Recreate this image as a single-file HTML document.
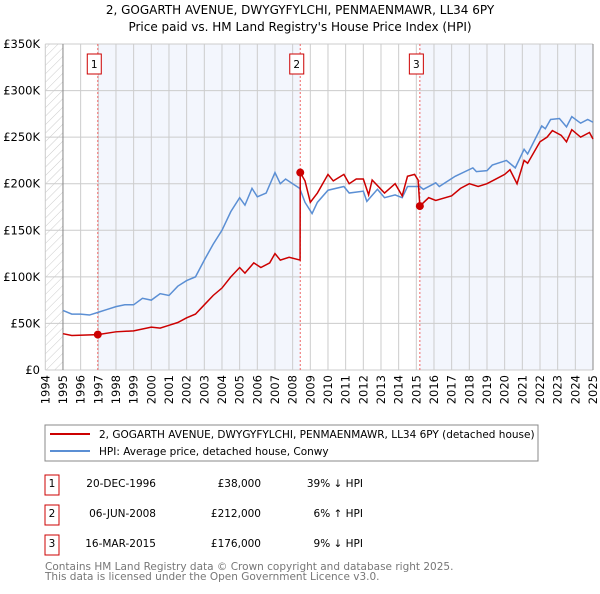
<!DOCTYPE html>
<html><head><meta charset="utf-8"><style>
body{margin:0;background:#fff;font-family:"DejaVu Sans","Liberation Sans",sans-serif;}
svg text{font-family:"DejaVu Sans","Liberation Sans",sans-serif;}
</style></head><body>
<svg width="600" height="590" xmlns="http://www.w3.org/2000/svg">
<defs><pattern id="hatch" width="6" height="6" patternUnits="userSpaceOnUse" patternTransform="rotate(45)"><line x1="0" y1="0" x2="0" y2="6" stroke="#ccc" stroke-width="1"/></pattern></defs>
<text x="300" y="14" text-anchor="middle" font-size="12">2, GOGARTH AVENUE, DWYGYFYLCHI, PENMAENMAWR, LL34 6PY</text>
<text x="300" y="31" text-anchor="middle" font-size="12">Price paid vs. HM Land Registry's House Price Index (HPI)</text>
<g id="plot"></g>
<g>
<rect x="45" y="425" width="493" height="36" fill="#fff" stroke="#888"/>
<line x1="50" y1="434" x2="90" y2="434" stroke="#cc0000" stroke-width="2"/>
<text x="99" y="438" font-size="10.5">2, GOGARTH AVENUE, DWYGYFYLCHI, PENMAENMAWR, LL34 6PY (detached house)</text>
<line x1="50" y1="451" x2="90" y2="451" stroke="#5b8fd4" stroke-width="2"/>
<text x="99" y="455" font-size="10.5">HPI: Average price, detached house, Conwy</text>
</g>
<g font-size="10.5">
<rect x="45" y="475" width="14" height="20" fill="#fff" stroke="#cc0000"/><text x="52" y="487" text-anchor="middle">1</text>
<text x="156" y="487" text-anchor="end">20-DEC-1996</text><text x="261" y="487" text-anchor="end">£38,000</text><text x="363" y="487" text-anchor="end">39% ↓ HPI</text>
<rect x="45" y="505" width="14" height="20" fill="#fff" stroke="#cc0000"/><text x="52" y="517" text-anchor="middle">2</text>
<text x="156" y="517" text-anchor="end">06-JUN-2008</text><text x="261" y="517" text-anchor="end">£212,000</text><text x="363" y="517" text-anchor="end">6% ↑ HPI</text>
<rect x="45" y="535" width="14" height="20" fill="#fff" stroke="#cc0000"/><text x="52" y="547" text-anchor="middle">3</text>
<text x="156" y="547" text-anchor="end">16-MAR-2015</text><text x="261" y="547" text-anchor="end">£176,000</text><text x="363" y="547" text-anchor="end">9% ↓ HPI</text>
</g>
<text x="45" y="570" font-size="10.5" fill="#777">Contains HM Land Registry data © Crown copyright and database right 2025.</text>
<text x="45" y="580" font-size="10.5" fill="#777">This data is licensed under the Open Government Licence v3.0.</text>
</svg>
<script>
const yTicks=[0,50000,100000,150000,200000,250000,300000,350000];
const yTickLabels=["£0","£50K","£100K","£150K","£200K","£250K","£300K","£350K"];
const xYears=[1994,1995,1996,1997,1998,1999,2000,2001,2002,2003,2004,2005,2006,2007,2008,2009,2010,2011,2012,2013,2014,2015,2016,2017,2018,2019,2020,2021,2022,2023,2024,2025];
const hpiT=[1995,1995.5,1996,1996.5,1997,1997.5,1998,1998.5,1999,1999.5,2000,2000.5,2001,2001.5,2002,2002.5,2003,2003.5,2004,2004.5,2005,2005.3,2005.7,2006,2006.5,2007,2007.3,2007.6,2008,2008.4,2008.7,2009.1,2009.4,2010,2010.9,2011.2,2012,2012.2,2012.8,2013.2,2013.8,2014.2,2014.5,2015.2,2015.4,2016.1,2016.3,2017.2,2018.2,2018.4,2019,2019.3,2020.1,2020.6,2021.1,2021.3,2022.1,2022.3,2022.6,2023.1,2023.5,2023.8,2024.3,2024.7,2025];
const hpiV=[64000,60000,60000,59000,62000,65000,68000,70000,70000,77000,75000,82000,80000,90000,96000,100000,118000,135000,150000,170000,185000,177000,195000,186000,190000,212000,200000,205000,200000,195000,180000,168000,180000,193000,197000,190000,192000,181000,194000,185000,188000,185000,197000,197000,194000,201000,197000,208000,217000,213000,214000,220000,225000,217000,237000,232000,262000,259000,269000,270000,261000,272000,265000,269000,266000];
const priceT=[1995,1995.5,1996.97,1998,1999,2000,2000.5,2001,2001.5,2002,2002.5,2003,2003.5,2004,2004.5,2005,2005.3,2005.8,2006.2,2006.7,2007,2007.3,2007.8,2008.42,2008.43,2008.7,2009.0,2009.4,2010,2010.3,2010.9,2011.2,2011.6,2012,2012.3,2012.5,2013.2,2013.8,2014.2,2014.5,2014.9,2015.1,2015.2,2015.7,2016.1,2017,2017.5,2018,2018.5,2019,2019.5,2020,2020.3,2020.7,2021.1,2021.3,2022,2022.4,2022.7,2023.2,2023.5,2023.8,2024.3,2024.8,2025];
const priceV=[39000,37000,38000,41000,42000,46000,45000,48000,51000,56000,60000,70000,80000,88000,100000,110000,104000,115000,110000,115000,125000,118000,121000,118000,212000,203000,180000,190000,210000,203000,210000,200000,205000,205000,188000,204000,190000,200000,187000,208000,210000,204000,176000,185000,182000,187000,195000,200000,197000,200000,205000,210000,215000,200000,225000,222000,245000,250000,257000,252000,245000,258000,250000,255000,248000];
const salesT=[1996.97,2008.43,2015.2];
const salesV=[38000,212000,176000];
const salesLbl=["1","2","3"];
const NS="http://www.w3.org/2000/svg";
const X0=45.3,X1=593,Y0=370,Y1=44;
const xs=t=>X0+(t-1994)*(X1-X0)/31;
const ys=v=>Y0-v*(Y0-Y1)/350000;
const g=document.getElementById('plot');
function mk(tag,a){const e=document.createElementNS(NS,tag);for(const k in a)e.setAttribute(k,a[k]);g.appendChild(e);return e;}
let r=mk('rect',{x:xs(1994),y:Y1,width:xs(1995)-xs(1994),height:Y0-Y1,fill:'url(#hatch)'});


r=mk('rect',{x:xs(salesT[0]),y:Y1,width:xs(salesT[1])-xs(salesT[0]),height:Y0-Y1,fill:'#f3f6fd'});


r=mk('rect',{x:xs(salesT[2]),y:Y1,width:X1-xs(salesT[2]),height:Y0-Y1,fill:'#f3f6fd'});


yTicks.forEach((v,i)=>{
 const l=mk('line',{x1:X0,x2:X1,y1:ys(v),y2:ys(v),stroke:'#ccc'});
 
 
 const t=mk('text',{x:40,y:ys(v)+4,'text-anchor':'end','font-size':'11.5'});t.textContent=yTickLabels[i];
 
 
});
xYears.forEach(y=>{
 const l=mk('line',{x1:xs(y),x2:xs(y),y1:Y1,y2:Y0,stroke:'#ccc'});
 
 
 const t=mk('text',{x:0,y:0,'font-size':'11.5',transform:`translate(${xs(y)+4},${Y0+5}) rotate(-90)`,'text-anchor':'end'});t.textContent=y;
 
 
});
let ax=mk('line',{x1:xs(1995),x2:xs(1995),y1:Y1,y2:Y0,stroke:'#888'});


ax=mk('line',{x1:X1,x2:X1,y1:Y1,y2:Y0,stroke:'#888'});


salesT.forEach((t,i)=>{
 const l=mk('line',{x1:xs(t),x2:xs(t),y1:Y1,y2:Y0,stroke:'#e66','stroke-dasharray':'2,2'});
 
 
 const b=mk('rect',{x:xs(t)-10.5,y:54,width:14,height:20,fill:'#fff',stroke:'#cc0000'});
 
 
 const tx=mk('text',{x:xs(t)-3.5,y:68,'text-anchor':'middle','font-size':'10.5'});tx.textContent=salesLbl[i];
 
 
});
const hp=mk('polyline',{points:hpiT.map((t,i)=>xs(t)+','+ys(hpiV[i])).join(' '),fill:'none',stroke:'#5b8fd4','stroke-width':1.5});


const pp=mk('polyline',{points:priceT.map((t,i)=>xs(t)+','+ys(priceV[i])).join(' '),fill:'none',stroke:'#cc0000','stroke-width':1.5});


salesT.forEach((t,i)=>{
 const c=mk('circle',{cx:xs(t),cy:ys(salesV[i]),r:4,fill:'#cc0000'});
 
 
});
</script>
</body></html>
